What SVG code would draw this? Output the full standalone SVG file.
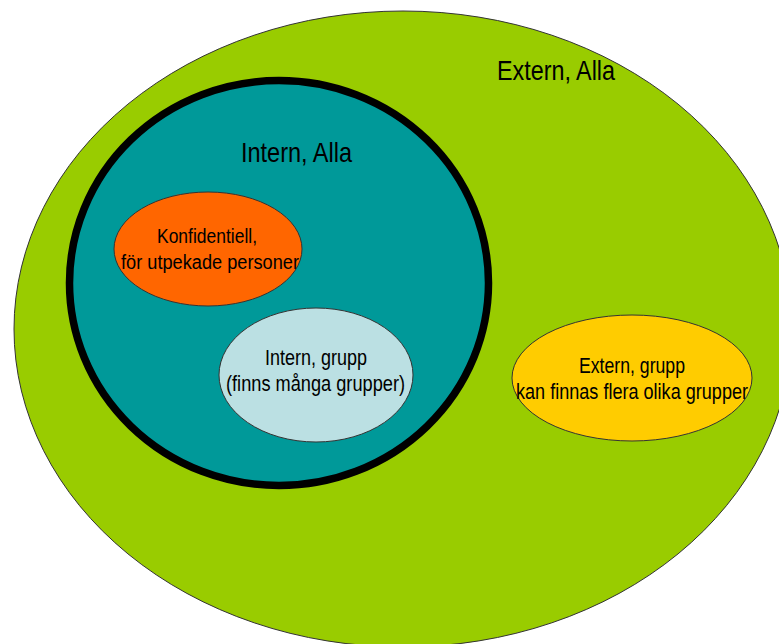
<svg xmlns="http://www.w3.org/2000/svg" width="779" height="644" viewBox="0 0 779 644">
  <style>
    .lbl { font-family: "Liberation Sans", Arial, sans-serif; fill: #000000; }
    .big { font-size: 28px; }
    .mid { font-size: 22px; }
    .sm { font-size: 20px; }
    .thin { stroke: #333333; stroke-width: 1; }
  </style>
  <rect x="0" y="0" width="779" height="644" fill="#ffffff"/>

  <g id="extern-alla">
    <ellipse class="thin" cx="403" cy="329" rx="389" ry="318" fill="#99CC00"/>
    <text class="lbl big" x="497" y="80" textLength="118" lengthAdjust="spacingAndGlyphs">Extern, Alla</text>
  </g>

  <g id="intern-alla">
    <ellipse cx="279" cy="283" rx="209.5" ry="202.5" fill="#009999" stroke="#000000" stroke-width="7.5"/>
    <text class="lbl big" x="241" y="162" textLength="111" lengthAdjust="spacingAndGlyphs">Intern, Alla</text>
  </g>

  <g id="konfidentiell">
    <ellipse class="thin" cx="208" cy="249" rx="94" ry="57" fill="#FF6600"/>
    <text class="lbl sm" x="157" y="243" textLength="100" lengthAdjust="spacingAndGlyphs">Konfidentiell,</text>
    <text class="lbl sm" x="121" y="269" textLength="178" lengthAdjust="spacingAndGlyphs">för utpekade personer</text>
  </g>

  <g id="intern-grupp">
    <ellipse class="thin" cx="316" cy="375" rx="97" ry="67" fill="#BBE0E3"/>
    <text class="lbl mid" x="265" y="365" textLength="102" lengthAdjust="spacingAndGlyphs">Intern, grupp</text>
    <text class="lbl mid" x="226" y="391" textLength="179" lengthAdjust="spacingAndGlyphs">(finns många grupper)</text>
  </g>

  <g id="extern-grupp">
    <ellipse class="thin" cx="632" cy="378" rx="120" ry="63" fill="#FFCC00"/>
    <text class="lbl mid" x="579" y="373" textLength="106" lengthAdjust="spacingAndGlyphs">Extern, grupp</text>
    <text class="lbl mid" x="516" y="399" textLength="232" lengthAdjust="spacingAndGlyphs">kan finnas flera olika grupper</text>
  </g>

  <g id="connectors"/>
</svg>
